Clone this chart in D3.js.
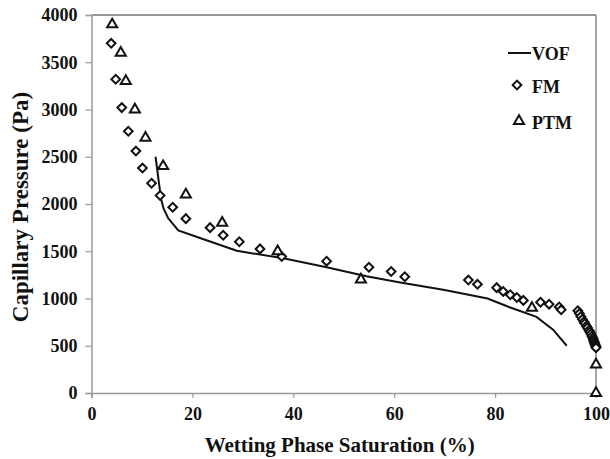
<!DOCTYPE html>
<html>
  <head>
    <script src="https://d3js.org/d3.v7.min.js"></script>
    <style>
      body { margin: 0; background: #fff; }
    </style>
  </head>
  <body>
    <script>
      // VOF curve
      const vofX = [12.7, 13.3, 13.8, 14.3, 15.2, 17.2, 21.5, 28.8, 38, 46.6, 54.5, 61.2, 70, 78.5, 83, 88.2, 91.5, 94.2];
      const vofY = [2500, 2250, 2050, 1950, 1850, 1720, 1640, 1505, 1425, 1330, 1235, 1170, 1090, 1000, 905, 805, 670, 500];

      // FM points
      const fmX = [3.9, 4.8, 6.0, 7.3, 8.8, 10.1, 11.9, 13.6, 16.1, 18.7, 23.5, 26.1, 29.3, 33.4, 37.7, 46.6, 55.0, 59.4, 62.1,
        74.7, 76.5, 80.3, 81.6, 83.0, 84.3, 85.6, 89.0, 90.7, 92.7, 93.1,
        96.4, 96.7, 97.0, 97.3, 97.6, 97.8, 98.1, 98.3, 98.6, 98.8, 99.0, 99.2, 99.4, 99.5, 99.6, 99.7, 99.8, 99.9, 100, 100];
      const fmY = [3700, 3320, 3020, 2770, 2560, 2380, 2220, 2090, 1965, 1845, 1750, 1670, 1600, 1525, 1445, 1395, 1330, 1285, 1230,
        1195, 1150, 1115, 1075, 1040, 1010, 980, 960, 940, 910, 880,
        870, 840, 810, 780, 755, 735, 710, 690, 665, 645, 625, 600, 580, 560, 545, 530, 515, 500, 490, 480];

      // PTM points
      const ptmX = [4.1, 5.8, 6.8, 8.6, 10.7, 14.2, 18.7, 25.9, 36.9, 53.4, 87.3, 100, 100];
      const ptmY = [3900, 3600, 3300, 3000, 2700, 2400, 2100, 1800, 1500, 1200, 900, 300, 0];

      const xTicks = [0, 20, 40, 60, 80, 100];
      const yTicks = [0, 500, 1000, 1500, 2000, 2500, 3000, 3500, 4000];

      const width = 610, height = 459;
      const plotLeft = 91.5, plotRight = 596, plotTop = 15, plotBottom = 393;
      const serif = "'Liberation Serif', 'DejaVu Serif', serif";

      const svg = d3.select("body").append("svg")
        .attr("width", width)
        .attr("height", height)
        .style("font-family", serif)
        .style("font-weight", "bold");

      const x = d3.scaleLinear().domain([0, 100]).range([plotLeft, plotRight]);
      const y = d3.scaleLinear().domain([0, 4000]).range([plotBottom, plotTop]);

      // frame: top and right border
      svg.append("line").attr("x1", plotLeft).attr("x2", plotRight).attr("y1", plotTop).attr("y2", plotTop)
        .attr("stroke", "#333").attr("stroke-width", 1.2);
      svg.append("line").attr("x1", plotRight).attr("x2", plotRight).attr("y1", plotTop).attr("y2", plotBottom)
        .attr("stroke", "#888").attr("stroke-width", 1.5);

      // axes
      const xAxis = svg.append("g")
        .attr("transform", `translate(0,${plotBottom})`)
        .call(d3.axisBottom(x).tickValues(xTicks).tickSize(5).tickPadding(9).tickFormat(d3.format("d")));
      const yAxis = svg.append("g")
        .attr("transform", `translate(${plotLeft},0)`)
        .call(d3.axisLeft(y).tickValues(yTicks).tickSize(6).tickPadding(8).tickFormat(d3.format("d")));

      [xAxis, yAxis].forEach(a => {
        a.attr("font-family", null).attr("font-size", null);
        a.select(".domain").attr("stroke", "#999").attr("stroke-width", 1.5);
        a.selectAll(".tick line").attr("stroke", "#999").attr("stroke-width", 1.2);
        a.selectAll(".tick text")
          .style("font-family", serif)
          .style("font-weight", "bold")
          .style("font-size", "18px")
          .attr("fill", "#111");
      });

      // axis titles
      svg.append("text")
        .attr("x", (plotLeft + plotRight) / 2 - 4)
        .attr("y", 452)
        .attr("text-anchor", "middle")
        .style("font-size", "21px")
        .attr("fill", "#111")
        .text("Wetting Phase Saturation (%)");

      svg.append("text")
        .attr("transform", `translate(28,${(plotTop + plotBottom) / 2 + 3}) rotate(-90)`)
        .attr("text-anchor", "middle")
        .style("font-size", "23px")
        .attr("fill", "#111")
        .text("Capillary Pressure (Pa)");

      // VOF line
      const line = d3.line()
        .x(d => x(d[0]))
        .y(d => y(d[1]));
      svg.append("path")
        .datum(d3.zip(vofX, vofY))
        .attr("d", line)
        .attr("fill", "none")
        .attr("stroke", "#111")
        .attr("stroke-width", 2);

      const diamond = d3.symbol().type(d3.symbolSquare).size(38);
      const triangle = d3.symbol().type(d3.symbolTriangle).size(44);

      // FM markers
      svg.append("g").selectAll("path")
        .data(d3.zip(fmX, fmY))
        .join("path")
        .attr("d", diamond)
        .attr("transform", d => `translate(${x(d[0])},${y(d[1])}) rotate(45)`)
        .attr("fill", "#fff")
        .attr("stroke", "#111")
        .attr("stroke-width", 2);

      // PTM markers
      svg.append("g").selectAll("path")
        .data(d3.zip(ptmX, ptmY))
        .join("path")
        .attr("d", triangle)
        .attr("transform", d => `translate(${x(d[0])},${y(d[1])})`)
        .attr("fill", "#fff")
        .attr("stroke", "#111")
        .attr("stroke-width", 2);

      // legend
      const legend = svg.append("g").style("font-size", "18px").attr("fill", "#111");
      legend.append("line")
        .attr("x1", 508).attr("x2", 531).attr("y1", 53).attr("y2", 53)
        .attr("stroke", "#111").attr("stroke-width", 2);
      legend.append("text").attr("x", 532).attr("y", 60).text("VOF");

      legend.append("path")
        .attr("d", diamond)
        .attr("transform", "translate(517,85) rotate(45)")
        .attr("fill", "#fff").attr("stroke", "#111").attr("stroke-width", 2);
      legend.append("text").attr("x", 532).attr("y", 93).text("FM");

      legend.append("path")
        .attr("d", triangle)
        .attr("transform", "translate(519,121)")
        .attr("fill", "#fff").attr("stroke", "#111").attr("stroke-width", 2);
      legend.append("text").attr("x", 532).attr("y", 129).text("PTM");
    </script>
  </body>
</html>
